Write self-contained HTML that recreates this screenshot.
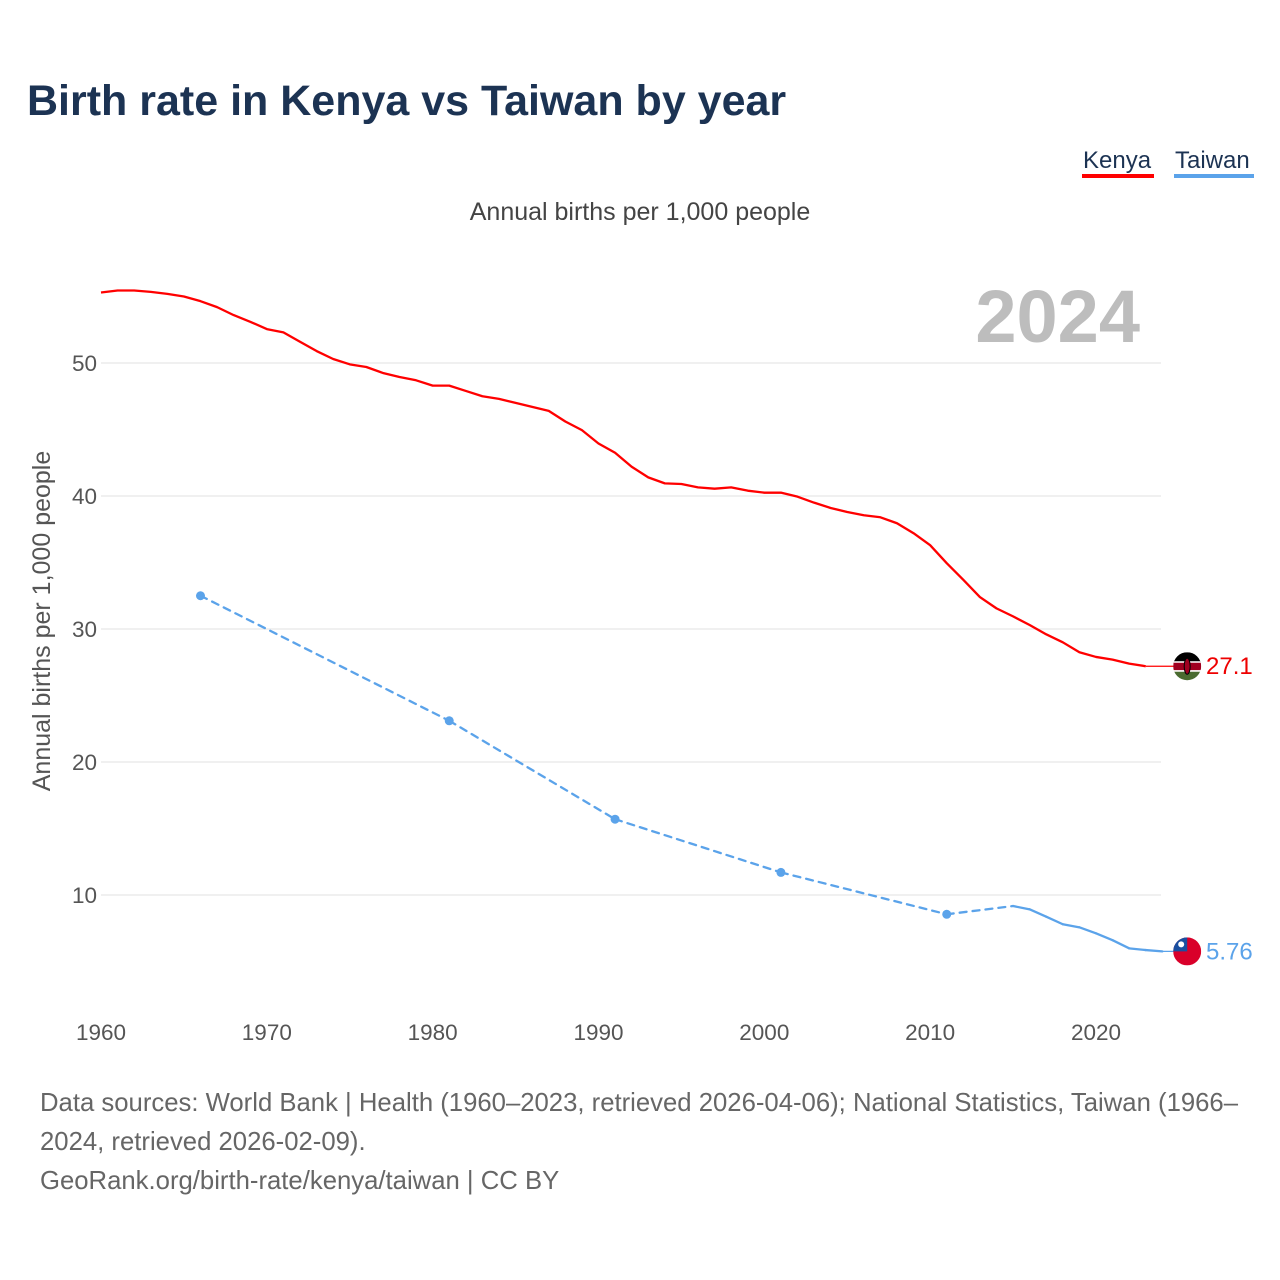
<!DOCTYPE html>
<html><head><meta charset="utf-8"><style>
body{margin:0;background:#fff;font-family:"Liberation Sans",sans-serif;}
#wrap{position:relative;width:1280px;height:1280px;overflow:hidden;}
</style></head><body>
<div id="wrap">
<svg id="chart" width="1280" height="1280" style="position:absolute;left:0;top:0">
<text x="27" y="115" font-size="43" font-weight="bold" fill="#1c3353">Birth rate in Kenya vs Taiwan by year</text>
<g><text x="1083" y="168" font-size="24" fill="#1c3353">Kenya</text><rect x="1082" y="174" width="72" height="4" fill="#f00"/></g>
<g><text x="1175" y="168" font-size="24" fill="#1c3353">Taiwan</text><rect x="1174" y="174" width="80" height="4" fill="#5ba3ea"/></g>
<text x="640" y="220" font-size="25" fill="#444" text-anchor="middle">Annual births per 1,000 people</text>
<text x="1140" y="342" font-size="74" font-weight="bold" fill="#bdbdbd" text-anchor="end">2024</text>
<text transform="translate(50,621) rotate(-90)" font-size="25" fill="#555" text-anchor="middle">Annual births per 1,000 people</text>
<g id="grid"></g><g id="marks"></g>
<text x="40" y="1111" font-size="25.7" fill="#666">Data sources: World Bank | Health (1960–2023, retrieved 2026-04-06); National Statistics, Taiwan (1966–</text>
<text x="40" y="1150" font-size="25.7" fill="#666">2024, retrieved 2026-02-09).</text>
<text x="40" y="1189" font-size="25.7" fill="#666">GeoRank.org/birth-rate/kenya/taiwan | CC BY</text>
</svg>
</div>
<script>
const kenyaYears=[1960,1961,1962,1963,1964,1965,1966,1967,1968,1969,1970,1971,1972,1973,1974,1975,1976,1977,1978,1979,1980,1981,1982,1983,1984,1985,1986,1987,1988,1989,1990,1991,1992,1993,1994,1995,1996,1997,1998,1999,2000,2001,2002,2003,2004,2005,2006,2007,2008,2009,2010,2011,2012,2013,2014,2015,2016,2017,2018,2019,2020,2021,2022,2023];
const kenyaValues=[55.3,55.45,55.45,55.35,55.2,55.0,54.65,54.2,53.6,53.1,52.55,52.3,51.6,50.9,50.3,49.9,49.7,49.25,48.95,48.7,48.3,48.3,47.9,47.5,47.3,47.0,46.7,46.4,45.6,44.95,43.95,43.25,42.2,41.4,40.95,40.9,40.65,40.55,40.65,40.4,40.25,40.25,39.95,39.5,39.1,38.8,38.55,38.4,37.95,37.2,36.3,34.95,33.7,32.4,31.55,30.95,30.3,29.6,29.0,28.25,27.9,27.7,27.4,27.2];
const taiwanYears=[1966,1981,1991,2001,2011,2015,2016,2017,2018,2019,2020,2021,2022,2023,2024];
const taiwanValues=[32.5,23.1,15.7,11.7,8.55,9.17,8.92,8.37,7.8,7.57,7.12,6.6,5.99,5.86,5.76];
const yTicks=[10,20,30,40,50];
const xTicks=[1960,1970,1980,1990,2000,2010,2020];
const kenyaLabel="27.1", taiwanLabel="5.76";
const NS="http://www.w3.org/2000/svg";
const X=y=>101+(y-1960)*16.583;
const Y=v=>1028-v*13.3;
function el(t,a,p){const e=document.createElementNS(NS,t);for(const k in a)e.setAttribute(k,a[k]);p.appendChild(e);return e;}
const grid=document.getElementById('grid'),marks=document.getElementById('marks');
yTicks.forEach(t=>{
 const l=el('line',{x1:101,x2:1161,y1:Y(t),y2:Y(t),stroke:'#e6e6e6','stroke-width':1.3},grid);
 
 
 const tx=el('text',{x:97,y:Y(t)+8,'font-size':22.5,fill:'#555','text-anchor':'end'},grid);tx.textContent=t;
 
 
});
xTicks.forEach(t=>{
 const tx=el('text',{x:X(t),y:1040,'font-size':22.5,fill:'#555','text-anchor':'middle'},grid);tx.textContent=t;
 
 
});
const flagX=X(2025.5);
const kd=kenyaYears.map((y,i)=>(i?'L':'M')+X(y)+','+Y(kenyaValues[i])).join('');
const kp=el('path',{d:kd,fill:'none',stroke:'#f00','stroke-width':2.3,'stroke-linejoin':'round'},marks);


const kLast=kenyaValues[kenyaValues.length-1];
const ke=el('line',{x1:X(kenyaYears[kenyaYears.length-1]),x2:flagX,y1:Y(kLast),y2:Y(kLast),stroke:'#f00','stroke-width':1.2},marks);


for(let i=1;i<taiwanYears.length;i++){
 const gap=taiwanYears[i]-taiwanYears[i-1]>1;
 const s=el('line',{x1:X(taiwanYears[i-1]),y1:Y(taiwanValues[i-1]),x2:X(taiwanYears[i]),y2:Y(taiwanValues[i]),stroke:'#5ba3ea','stroke-width':2.3,'stroke-linecap':'round'},marks);
 if(gap)s.setAttribute('stroke-dasharray','7 6');
 
 
}
taiwanYears.forEach((y,i)=>{
 const iso=(i==0||y-taiwanYears[i-1]>1)&&(i==taiwanYears.length-1||taiwanYears[i+1]-y>1);
 if(iso){const c=el('circle',{cx:X(y),cy:Y(taiwanValues[i]),r:4.5,fill:'#5ba3ea'},marks);
 
 }
});
const tLast=taiwanValues[taiwanValues.length-1];
const te=el('line',{x1:X(2024),x2:flagX,y1:Y(tLast),y2:Y(tLast),stroke:'#5ba3ea','stroke-width':1.2},marks);


const defs=el('defs',{},marks);
const ky=Y(kLast), ty=Y(tLast);
const c1=el('clipPath',{id:'kc'},defs);el('circle',{cx:flagX,cy:ky,r:14},c1);
const c2=el('clipPath',{id:'tc'},defs);el('circle',{cx:flagX,cy:ty,r:14},c2);
const kf=el('g',{'clip-path':'url(#kc)'},marks);


el('rect',{x:flagX-14,y:ky-14,width:28,height:10,fill:'#000'},kf);
el('rect',{x:flagX-14,y:ky-4,width:28,height:8,fill:'#a00020'},kf);
el('rect',{x:flagX-14,y:ky-5,width:28,height:1.5,fill:'#fff'},kf);
el('rect',{x:flagX-14,y:ky+4,width:28,height:1.5,fill:'#fff'},kf);
el('rect',{x:flagX-14,y:ky+5.5,width:28,height:9,fill:'#4a6b30'},kf);
el('ellipse',{cx:flagX,cy:ky,rx:3,ry:8,fill:'#a00020',stroke:'#000','stroke-width':1},kf);
const tf=el('g',{'clip-path':'url(#tc)'},marks);


el('rect',{x:flagX-14,y:ty-14,width:28,height:28,fill:'#d9002a'},tf);
el('rect',{x:flagX-14,y:ty-14,width:14,height:14,fill:'#1a4fa0'},tf);
el('circle',{cx:flagX-6,cy:ty-7,r:3,fill:'#fff'},tf);
const kl=el('text',{x:1206,y:ky+8,'font-size':24,fill:'#e00'},marks);kl.textContent=kenyaLabel;


const tl=el('text',{x:1206,y:ty+8,'font-size':24,fill:'#5ba3ea'},marks);tl.textContent=taiwanLabel;


</script>
</body></html>
